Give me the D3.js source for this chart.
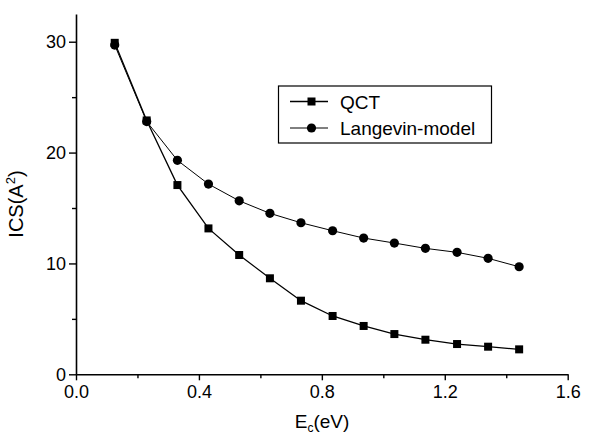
<!DOCTYPE html>
<html>
<head>
<meta charset="utf-8">
<script src="https://cdn.jsdelivr.net/npm/d3@7"></script>
<style>
  html, body { margin: 0; padding: 0; background: #fff; }
  svg { display: block; font-family: "Liberation Sans", Arial, sans-serif; }
</style>
</head>
<body>
<svg id="chart" width="589" height="434"></svg>
<script>
// Collision energy (eV)
const energy = [0.126, 0.230, 0.330, 0.431, 0.531, 0.631, 0.732, 0.835, 0.936, 1.036, 1.137, 1.240, 1.341, 1.442];
// Integral cross sections (A^2)
const qct = [29.9, 22.9, 17.07, 13.16, 10.76, 8.66, 6.64, 5.26, 4.36, 3.63, 3.12, 2.73, 2.49, 2.25];
const langevin = [29.7, 22.8, 19.3, 17.16, 15.65, 14.52, 13.67, 12.95, 12.29, 11.84, 11.36, 11.0, 10.46, 9.70];
const seriesNames = ["QCT", "Langevin-model"];
const xTicks = [0, 0.4, 0.8, 1.2, 1.6];
const xMinor = [0.2, 0.6, 1.0, 1.4];
const yTicks = [0, 10, 20, 30];
const yMinor = [5, 15, 25];

const svg = d3.select("#chart");
const x = d3.scaleLinear().domain([0, 1.6]).range([76, 567.7]);
const y = d3.scaleLinear().domain([0, 32.5]).range([374.3, 14]);

const fontSize = 18;

// minor ticks
svg.append("g").attr("transform", `translate(0,${y(0)})`)
  .call(d3.axisBottom(x).tickValues(xMinor).tickSize(4).tickFormat(""))
  .call(g => g.select(".domain").remove());
svg.append("g").attr("transform", `translate(${x(0)},0)`)
  .call(d3.axisLeft(y).tickValues(yMinor).tickSize(4).tickFormat(""))
  .call(g => g.select(".domain").remove());

// major axes
svg.append("g").attr("transform", `translate(0,${y(0)})`)
  .call(d3.axisBottom(x).tickValues(xTicks).tickSize(6).tickSizeOuter(0).tickPadding(5)
    .tickFormat(d3.format(".1f")));
svg.append("g").attr("transform", `translate(${x(0)},0)`)
  .call(d3.axisLeft(y).tickValues(yTicks).tickSize(7).tickSizeOuter(0).tickPadding(3)
    .tickFormat(d3.format("d")));

svg.selectAll(".domain").attr("stroke", "#000").attr("stroke-width", 1.6);
svg.selectAll(".tick line").attr("stroke", "#000").attr("stroke-width", 1.4);
svg.selectAll(".tick text").attr("fill", "#000").attr("font-size", fontSize)
  .attr("font-family", "Liberation Sans, Arial, sans-serif");

// axis titles
const xt = svg.append("text").attr("x", 322).attr("y", 428)
  .attr("text-anchor", "middle").attr("font-size", 19).attr("fill", "#000");
xt.append("tspan").text("E");
xt.append("tspan").attr("font-size", 12).attr("dy", 4).text("c");
xt.append("tspan").attr("dy", -4).text("(eV)");

const yt = svg.append("text").attr("transform", "translate(23,204) rotate(-90)")
  .attr("text-anchor", "middle").attr("font-size", 20).attr("fill", "#000");
yt.append("tspan").text("ICS(A");
yt.append("tspan").attr("font-size", 13).attr("dy", -8).text("2");
yt.append("tspan").attr("dy", 8).text(")");

// data
const ptsQ = energy.map((e, i) => [e, qct[i]]);
const ptsL = energy.map((e, i) => [e, langevin[i]]);
const line = d3.line().x(d => x(d[0])).y(d => y(d[1]));

svg.append("path").datum(ptsL).attr("d", line)
  .attr("fill", "none").attr("stroke", "#000").attr("stroke-width", 1);
svg.append("path").datum(ptsQ).attr("d", line)
  .attr("fill", "none").attr("stroke", "#000").attr("stroke-width", 1.3);

svg.append("g").selectAll("circle").data(ptsL).join("circle")
  .attr("cx", d => x(d[0])).attr("cy", d => y(d[1])).attr("r", 4.6).attr("fill", "#000");
svg.append("g").selectAll("rect").data(ptsQ).join("rect")
  .attr("x", d => x(d[0]) - 4).attr("y", d => y(d[1]) - 4)
  .attr("width", 8).attr("height", 8).attr("fill", "#000");

// legend
const lg = svg.append("g");
lg.append("rect").attr("x", 278.5).attr("y", 86).attr("width", 213).attr("height", 57)
  .attr("fill", "#fff").attr("stroke", "#000").attr("stroke-width", 1.2);
const rows = [101.5, 128];
rows.forEach((ry, i) => {
  lg.append("line").attr("x1", 290).attr("x2", 328).attr("y1", ry).attr("y2", ry)
    .attr("stroke", "#000").attr("stroke-width", i === 0 ? 1.3 : 1);
  if (i === 0) {
    lg.append("rect").attr("x", 307.5).attr("y", ry - 4).attr("width", 8).attr("height", 8).attr("fill", "#000");
  } else {
    lg.append("circle").attr("cx", 311.5).attr("cy", ry).attr("r", 4.6).attr("fill", "#000");
  }
  lg.append("text").attr("x", 340).attr("y", ry + 7).attr("font-size", 19)
    .attr("fill", "#000").text(seriesNames[i]);
});
</script>
</body>
</html>
